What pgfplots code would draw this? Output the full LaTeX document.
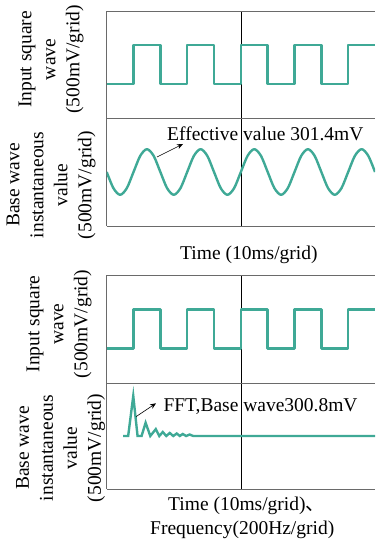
\documentclass[border=0pt]{standalone}
\usepackage{fontspec}
\setmainfont{Liberation Serif}
\newfontfamily\cjk{Noto Sans CJK SC}
\usepackage{pgfplots}
\pgfplotsset{compat=1.18}
\usetikzlibrary{arrows.meta}
\definecolor{wave}{HTML}{3FA996}
\definecolor{frame}{HTML}{6A6A6A}
\pgfplotsset{
  panel/.style={
    scale only axis, width=268.3bp, anchor=south west,
    xmin=0, xmax=20, ymin=-1, ymax=1,
    axis x line=box, axis y line=left,
    axis line style={draw=frame, line width=0.7bp},
    y axis line style={-},
    xtick={10}, xticklabels={}, ytick=\empty,
    major tick length=0pt,
    xmajorgrids, major grid style={black, line width=0.6bp},
  },
  wavestyle/.style={wave, line width=2.4bp, line join=round, no marks},
}
\pgfplotstableread{
t y
0 -0.36
2 -0.36
2 0.36
4 0.36
4 -0.36
6 -0.36
6 0.36
8 0.36
8 -0.36
10 -0.36
10 0.36
12 0.36
12 -0.36
14 -0.36
14 0.36
16 0.36
16 -0.36
18 -0.36
18 0.36
20 0.36
}\squaredata
\pgfplotstableread{
t y
0 0
0.5 -0.299
1 -0.423
1.5 -0.299
2 0
2.5 0.299
3 0.423
3.5 0.299
4 0
4.5 -0.299
5 -0.423
5.5 -0.299
6 0
6.5 0.299
7 0.423
7.5 0.299
8 0
8.5 -0.299
9 -0.423
9.5 -0.299
10 0
10.5 0.299
11 0.423
11.5 0.299
12 0
12.5 -0.299
13 -0.423
13.5 -0.299
14 0
14.5 0.299
15 0.423
15.5 0.299
16 0
16.5 -0.299
17 -0.423
17.5 -0.299
18 0
18.5 0.299
19 0.423
19.5 0.299
20 0
}\sinedata
\pgfplotstableread{
t y
1.23 0
1.6 0
1.98 0.755
2.3 0
2.6 0
2.9 0.25
3.25 0
3.66 0.13
3.92 0
4.18 0.075
4.44 0
4.7 0.057
4.96 0
5.22 0.047
5.45 0
5.67 0.038
5.92 0
6.18 0.028
6.45 0
20 0
}\fftdata
\begin{document}
\begin{tikzpicture}[x=1bp,y=1bp]
\useasboundingbox (0,0) rectangle (375,541);
\fontsize{19.5bp}{24bp}\selectfont
% panel 1
\begin{axis}[panel, at={(106.7bp,423bp)}, height=107bp]
\addplot[wavestyle] table[x=t,y=y] {\squaredata};
\end{axis}
% panel 2
\begin{axis}[panel, at={(106.7bp,315bp)}, height=108bp]
\addplot[wavestyle, smooth] table[x=t,y=y] {\sinedata};
\end{axis}
% panel 3
\begin{axis}[panel, at={(106.7bp,158bp)}, height=108bp]
\addplot[wavestyle] table[x=t,y=y] {\squaredata};
\end{axis}
% panel 4
\begin{axis}[panel, at={(106.7bp,52bp)}, height=106bp]
\addplot[wavestyle, line join=miter] table[x=t,y=y] {\fftdata};
\end{axis}
% y labels
\node[rotate=90, align=center, inner sep=0pt] at (51,481.5) {Input square\\wave\\(500mV/grid)};
\node[rotate=90, align=center, inner sep=0pt] at (51,356) {Base wave\\instantaneous\\value\\(500mV/grid)};
\node[rotate=90, align=center, inner sep=0pt] at (59,217) {Input square\\wave\\(500mV/grid)};
\node[rotate=90, align=center, inner sep=0pt] at (60.5,93) {Base wave\\instantaneous\\value\\(500mV/grid)};
% annotations
\node[anchor=base west, inner sep=0pt] at (167,400) {Effective value 301.4mV};
\draw[line width=0.6bp, -{Stealth[length=6bp,width=5bp]}] (157,384) -- (183,397);
\node[anchor=base west, inner sep=0pt] at (163.3,129.3) {FFT,Base wave300.8mV};
\draw[line width=0.6bp, -{Stealth[length=6bp,width=5bp]}] (136,124.3) -- (156,137.7);
% x labels
\node[anchor=base west, inner sep=0pt] at (180,281) {Time (10ms/grid)};
\node[anchor=base west, inner sep=0pt] at (168,30.3) {Time (10ms/grid){\cjk 、}};
\node[anchor=base west, inner sep=0pt] at (150,6) {Frequency(200Hz/grid)};
\end{tikzpicture}
\end{document}
